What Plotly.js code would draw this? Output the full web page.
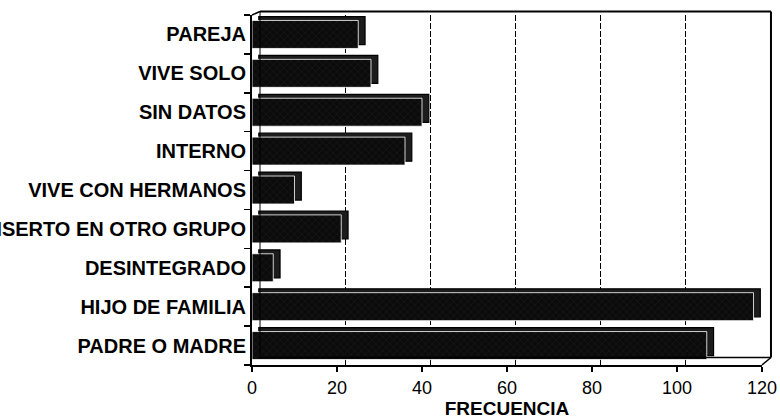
<!DOCTYPE html>
<html>
<head>
<meta charset="utf-8">
<script src="https://cdn.plot.ly/plotly-3.0.1.min.js"></script>
<style>html,body{margin:0;padding:0;background:#fff;}#chart{width:780px;height:420px;}</style>
</head>
<body>
<div id="chart"></div>
<script>
// Categories listed bottom-to-top
const categories = ['PADRE O MADRE','HIJO DE FAMILIA','DESINTEGRADO','INSERTO EN OTRO GRUPO','VIVE CON HERMANOS','INTERNO','SIN DATOS','VIVE SOLO','PAREJA'];
const frecuencia = [107, 118, 5, 21, 10, 36, 40, 28, 25];
const xTicks = [0, 20, 40, 60, 80, 100, 120];
const xTitle = 'FRECUENCIA';

const FONT = 'Liberation Sans, Arial, Helvetica, sans-serif';
const depth = 1.6;     // 3-D depth in x units
const barW = 0.72;

const backFace = {
  type: 'bar', orientation: 'h',
  y: categories, x: frecuencia, base: depth,
  width: barW, offset: -barW/2 + 0.1,
  marker: {color: '#1c1c1c', line: {color: '#000', width: 1.2}},
  hoverinfo: 'skip', showlegend: false
};
const frontFace = {
  type: 'bar', orientation: 'h',
  y: categories, x: frecuencia,
  width: barW, offset: -barW/2,
  marker: {color: '#0b0b0b', line: {color: '#ffffff', width: 0.8},
           pattern: {shape: 'x', fgcolor: '#3a3a3a', bgcolor: '#0b0b0b', size: 5, solidity: 0.08}},
  showlegend: false
};
const gridDummy = {
  type: 'scatter', x: [], y: [], xaxis: 'x2', yaxis: 'y', showlegend: false, hoverinfo: 'skip'
};

const shapes = [
  {type: 'line', xref: 'paper', yref: 'paper', x0: 0.0157, x1: 1.0176, y0: 1.01, y1: 1.01, line: {color: '#000', width: 2}},
  {type: 'line', xref: 'paper', yref: 'paper', x0: 1.0176, x1: 1.0176, y0: 0.0214, y1: 1.01, line: {color: '#000', width: 2}},
  {type: 'line', xref: 'paper', yref: 'paper', x0: 0.0157, x1: 1.0176, y0: 0.0214, y1: 0.0214, line: {color: '#000', width: 1.5}},
  {type: 'line', xref: 'paper', yref: 'paper', x0: 0, x1: 0.0157, y0: 1, y1: 1.01, line: {color: '#000', width: 1.5}},
  {type: 'line', xref: 'paper', yref: 'paper', x0: 1, x1: 1.0176, y0: 0, y1: 0.0214, line: {color: '#000', width: 1.5}},
  {type: 'line', xref: 'paper', yref: 'paper', x0: 0.0157, x1: 0.0157, y0: 0.0214, y1: 1.01, line: {color: '#000', width: 1}}
];

const layout = {
  width: 780, height: 420,
  margin: {l: 252, r: 18, t: 14.5, b: 54.5},
  paper_bgcolor: '#fff', plot_bgcolor: 'rgba(0,0,0,0)',
  bargap: 0.28,
  font: {family: FONT, color: '#000'},
  xaxis: {
    range: [0, 120], tickvals: xTicks, ticktext: xTicks.map(String),
    showgrid: false, zeroline: false,
    showline: true, linecolor: '#000', linewidth: 2,
    ticks: 'outside', ticklen: 5, tickcolor: '#000', tickwidth: 1.5,
    tickfont: {family: FONT, size: 18, color: '#000'},
    title: {text: xTitle, font: {family: FONT, size: 19, color: '#000', weight: 'bold'}, standoff: 4},
    fixedrange: true
  },
  xaxis2: {
    overlaying: 'x', anchor: 'y', range: [-2, 118],
    tickvals: [20, 40, 60, 80, 100], showticklabels: false, ticks: '',
    showgrid: true, gridcolor: '#000', gridwidth: 1, griddash: '6px,2px',
    zeroline: false, showline: false, fixedrange: true
  },
  yaxis: {
    type: 'category', categoryorder: 'array', categoryarray: categories,
    range: [-0.5, categories.length - 0.5],
    showgrid: false, zeroline: false,
    showline: true, linecolor: '#000', linewidth: 2,
    ticks: 'outside', tickson: 'boundaries', ticklen: 6, tickcolor: '#000', tickwidth: 1.5,
    tickfont: {family: FONT, size: 20, color: '#000', weight: 'bold'},
    automargin: false, fixedrange: true
  },
  shapes: shapes,
  showlegend: false
};

Plotly.newPlot('chart', [gridDummy, backFace, frontFace], layout, {displayModeBar: false, staticPlot: true});
</script>
</body>
</html>
